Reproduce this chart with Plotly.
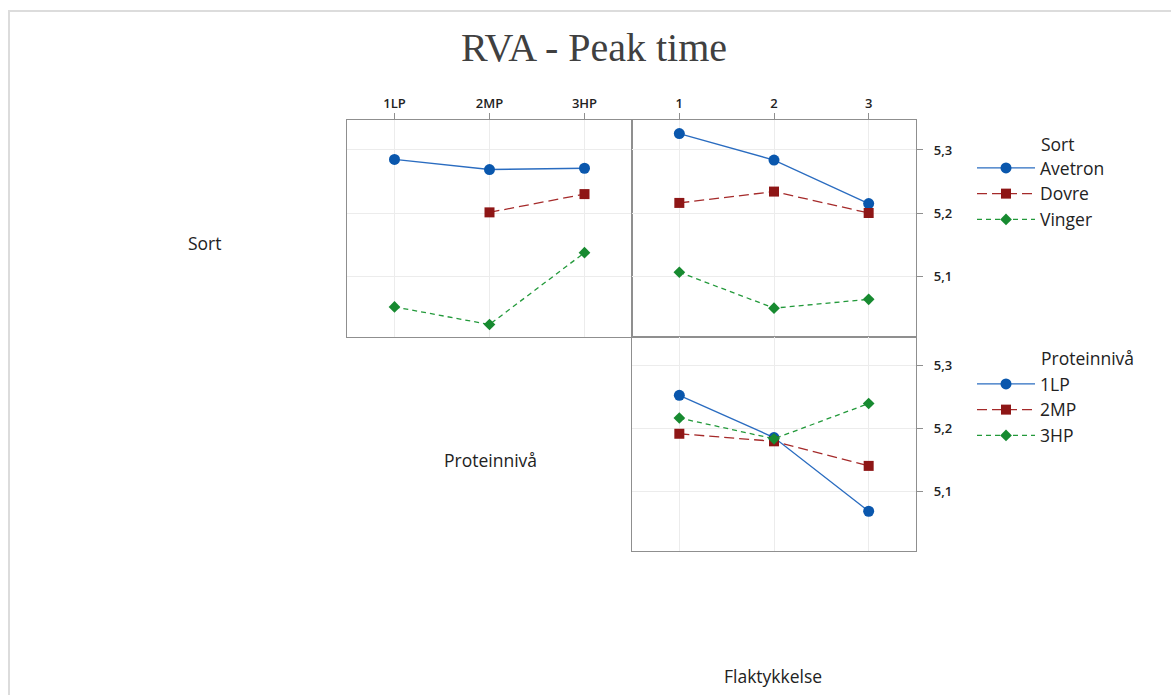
import plotly.graph_objects as go

W, H = 1171, 695

# ---- data ----
protein_levels = ["1LP", "2MP", "3HP"]
flak_levels = ["1", "2", "3"]
sorts = ["Avetron", "Dovre", "Vinger"]

# Sort x Proteinnivå (top-left panel)
sort_by_protein = {
    "Avetron": [5.285, 5.269, 5.271],
    "Dovre":   [None, 5.201, 5.230],
    "Vinger":  [5.051, 5.023, 5.137],
}
# Sort x Flaktykkelse (top-right panel)
sort_by_flak = {
    "Avetron": [5.326, 5.284, 5.215],
    "Dovre":   [5.216, 5.234, 5.200],
    "Vinger":  [5.106, 5.049, 5.063],
}
# Proteinnivå x Flaktykkelse (bottom panel)
protein_by_flak = {
    "1LP": [5.253, 5.186, 5.069],
    "2MP": [5.192, 5.180, 5.141],
    "3HP": [5.217, 5.184, 5.240],
}

y_ticks = [5.1, 5.2, 5.3]
y_ticktext = ["5,1", "5,2", "5,3"]

styles = [
    dict(color="#0a57ad", line="#2a6cc0", symbol="circle", dash="solid", size=11),
    dict(color="#8e1616", line="#a52a2a", symbol="square", dash="10px,5px", size=10),
    dict(color="#178a30", line="#22993a", symbol="diamond", dash="5px,4px", size=9),
]

fig = go.Figure()
xs = [1, 2, 3]

def add(x_axis, y_axis, y, st, name, legend, show):
    fig.add_trace(go.Scatter(
        x=xs, y=y, mode="lines+markers", name=name,
        xaxis=x_axis, yaxis=y_axis,
        line=dict(color=st["line"], width=1.3, dash=st["dash"]),
        marker=dict(color=st["color"], symbol=st["symbol"], size=st["size"]),
        legend=legend, showlegend=show, legendgroup=legend + name,
        connectgaps=False,
    ))

for i, s in enumerate(sorts):
    add("x", "y", sort_by_protein[s], styles[i], s, "legend", False)
for i, s in enumerate(sorts):
    add("x2", "y2", sort_by_flak[s], styles[i], s, "legend", True)
for i, p in enumerate(protein_levels):
    add("x3", "y3", protein_by_flak[p], styles[i], p, "legend2", True)

def px_x(p):
    return p / W

def px_y(p):
    return 1 - p / H

frame = "#8f8f8f"
grid = "#ececec"
tickfont = dict(family="Open Sans", size=13, color="#222", weight=600)

x_left = [px_x(347), px_x(632)]
x_right = [px_x(632), px_x(916)]
y_top = [px_y(337), px_y(120)]
y_bot = [px_y(551), px_y(337)]

common_x = dict(range=[0.5, 3.5], showgrid=True, gridcolor=grid, gridwidth=1,
                showline=True, linecolor=frame, linewidth=1.3, mirror=True,
                zeroline=False, tickvals=xs, tickfont=tickfont,
                ticks="outside", ticklen=6, tickcolor=frame)
common_y = dict(showgrid=True, gridcolor=grid, gridwidth=1,
                showline=True, linecolor=frame, linewidth=1.3, mirror=True,
                zeroline=False, tickvals=y_ticks, ticktext=y_ticktext,
                tickfont=tickfont, tickcolor=frame)

legend_font = dict(family="Open Sans", size=17.5, color="#222")

fig.update_layout(
    width=W, height=H,
    margin=dict(l=0, r=0, t=0, b=0),
    paper_bgcolor="white", plot_bgcolor="white",
    xaxis=dict(common_x, domain=x_left, anchor="y", side="top",
               ticktext=protein_levels),
    yaxis=dict(common_y, domain=y_top, anchor="x", range=[5.0032, 5.3476],
               showticklabels=False, ticks=""),
    xaxis2=dict(common_x, domain=x_right, anchor="y2", side="top",
                ticktext=flak_levels),
    yaxis2=dict(common_y, domain=y_top, anchor="x2", side="right",
                range=[5.0032, 5.3476], ticks="outside", ticklen=6,
                ticklabelstandoff=8),
    xaxis3=dict(common_x, domain=x_right, anchor="y3", showticklabels=False,
                ticks="", ticktext=flak_levels),
    yaxis3=dict(common_y, domain=y_bot, anchor="x3", side="right",
                range=[5.0059, 5.3456], ticks="outside", ticklen=6,
                ticklabelstandoff=8),
    legend=dict(x=px_x(972), y=px_y(150), xanchor="left", yanchor="top",
                font=legend_font, itemwidth=58, tracegroupgap=0,
                bgcolor="rgba(0,0,0,0)"),
    legend2=dict(x=px_x(972), y=px_y(366), xanchor="left", yanchor="top",
                 font=legend_font, itemwidth=58, tracegroupgap=0,
                 bgcolor="rgba(0,0,0,0)"),
    showlegend=True,
)

label_font = dict(family="Open Sans", size=17.5, color="#222")
annos = [
    dict(text="RVA - Peak time", x=px_x(594), y=px_y(48),
         font=dict(family="Liberation Serif", size=40, color="#404040")),
    dict(text="Sort", x=px_x(205), y=px_y(243), font=label_font),
    dict(text="Proteinnivå", x=px_x(490), y=px_y(460), font=label_font),
    dict(text="Flaktykkelse", x=px_x(773), y=px_y(676), font=label_font),
    dict(text="Sort", x=px_x(1039), y=px_y(144), xanchor="left", font=label_font),
    dict(text="Proteinnivå", x=px_x(1039), y=px_y(358), xanchor="left", font=label_font),
]
for a in annos:
    a.setdefault("xanchor", "center")
    fig.add_annotation(xref="paper", yref="paper", yanchor="middle",
                       showarrow=False, **a)

# outer light frame of the image
fig.add_shape(type="rect", xref="paper", yref="paper",
              x0=px_x(9), y0=-0.01, x1=1.01, y1=px_y(11),
              line=dict(color="#dcdcdc", width=2), fillcolor="rgba(0,0,0,0)",
              layer="below")

fig.write_html("out.html")
